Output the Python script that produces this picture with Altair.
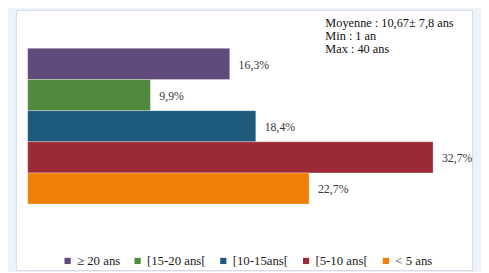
import altair as alt
import pandas as pd

categories = ["≥ 20 ans", "[15-20 ans[", "[10-15ans[", "[5-10 ans[", "< 5 ans"]
values = [16.3, 9.9, 18.4, 32.7, 22.7]
labels = ["16,3%", "9,9%", "18,4%", "32,7%", "22,7%"]
colors = ["#604a7b", "#4f8a3f", "#1e5a7c", "#9c2a36", "#f07f0a"]
note_lines = ["Moyenne : 10,67± 7,8 ans", "Min : 1 an", "Max : 40 ans"]

df = pd.DataFrame({"cat": categories, "val": values, "lab": labels})
FONT = "Liberation Serif"

x = alt.X("val:Q", axis=None, scale=alt.Scale(domain=[-0.95, 35.85], nice=False, zero=False))
y = alt.Y("cat:N", axis=None, sort=categories,
          scale=alt.Scale(domain=categories, paddingInner=0, paddingOuter=0, range=[39, 197]))

bars = alt.Chart(df).mark_bar(stroke="#ffffff", strokeWidth=0.6, strokeOpacity=0.5).encode(
    x=x, y=y,
    color=alt.Color("cat:N", scale=alt.Scale(domain=categories, range=colors),
                    legend=alt.Legend(title=None, orient="none", direction="horizontal",
                                      legendX=46, legendY=248, symbolType="square",
                                      symbolSize=40, symbolStrokeWidth=0,
                                      labelFont=FONT, labelFontSize=13, labelColor="#1a1a1a",
                                      labelOffset=3, columnPadding=11, padding=0)),
)

text = alt.Chart(df).mark_text(align="left", baseline="middle", dx=9, dy=1,
                               font=FONT, fontSize=12, color="#383838").encode(
    x=x, y=y, text="lab:N")

note = alt.Chart(pd.DataFrame({"t": [note_lines]})).mark_text(
    align="left", baseline="top", font=FONT, fontSize=12.5, lineHeight=13.5, color="#111111"
).encode(x=alt.value(314), y=alt.value(7), text="t")

chart = (bars + text + note).properties(
    width=463, height=264,
    autosize=alt.AutoSizeParams(type="none"),
    padding={"left": 8, "top": 0, "right": 9, "bottom": 0},
    background="#eef2f9",
).configure_view(fill="#ffffff", stroke="#d5d9e0", strokeWidth=1)

chart.save("out.html", embed_options={"renderer": "svg", "actions": False})
